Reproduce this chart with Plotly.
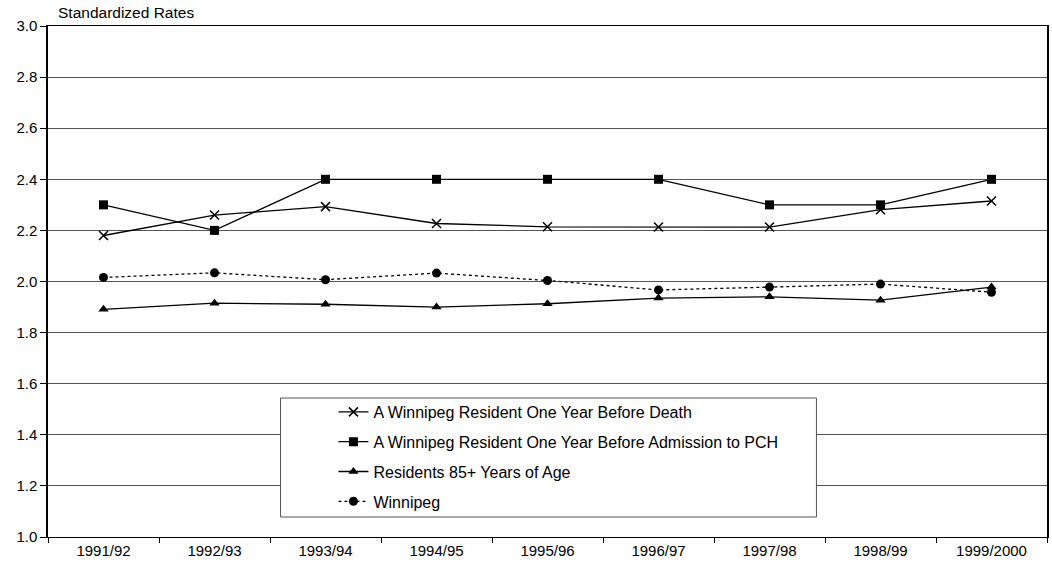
import plotly.graph_objects as go

years = ["1991/92", "1992/93", "1993/94", "1994/95", "1995/96",
         "1996/97", "1997/98", "1998/99", "1999/2000"]
death = [2.18, 2.26, 2.293, 2.227, 2.214, 2.213, 2.213, 2.281, 2.315]
pch = [2.3, 2.2, 2.4, 2.4, 2.4, 2.4, 2.3, 2.3, 2.4]
age85 = [1.891, 1.915, 1.911, 1.90, 1.913, 1.935, 1.94, 1.927, 1.978]
winnipeg = [2.016, 2.034, 2.007, 2.033, 2.004, 1.967, 1.978, 1.99, 1.958]

names = ["A Winnipeg Resident One Year Before Death",
         "A Winnipeg Resident One Year Before Admission to PCH",
         "Residents 85+ Years of Age",
         "Winnipeg"]

FONT = "Arial, Liberation Sans, sans-serif"

fig = go.Figure()
fig.add_trace(go.Scatter(x=years, y=death, name=names[0], mode="lines+markers",
                         legendgroup="a",
                         line=dict(color="black", width=1.3),
                         marker=dict(symbol="x-thin", size=9, color="black",
                                     line=dict(color="black", width=1.5))))
fig.add_trace(go.Scatter(x=years, y=pch, name=names[1], mode="lines+markers",
                         legendgroup="b",
                         line=dict(color="black", width=1.3),
                         marker=dict(symbol="square", size=9, color="black")))
fig.add_trace(go.Scatter(x=years, y=age85, name=names[2], mode="lines+markers",
                         legendgroup="c",
                         line=dict(color="black", width=1.3),
                         marker=dict(symbol="triangle-up", size=9, color="black")))
fig.add_trace(go.Scatter(x=years, y=winnipeg, name=names[3], mode="lines+markers",
                         legendgroup="d",
                         line=dict(color="black", width=1.3, dash="3px,3px"),
                         marker=dict(symbol="circle", size=9, color="black")))

L, R, T, B = 48, 3, 26, 31
W, H = 1052, 568
pw, ph = W - L - R, H - T - B

def px2x(p):
    return (p - L) / pw

def py2y(p):
    return (H - B - p) / ph

fig.add_shape(type="rect", xref="paper", yref="paper",
              x0=px2x(281), x1=px2x(818), y0=py2y(517), y1=py2y(398),
              line=dict(color="#555", width=1), fillcolor="white", layer="above")

fig.add_annotation(text="Standardized Rates", xref="paper", yref="paper",
                   x=px2x(56), y=1, yshift=3, xanchor="left", yanchor="bottom",
                   showarrow=False, font=dict(family=FONT, size=15.5, color="black"))

fig.update_layout(
    width=W, height=H,
    margin=dict(l=L, r=R, t=T, b=B),
    plot_bgcolor="white", paper_bgcolor="white",
    font=dict(family=FONT, size=15, color="black"),
    showlegend=True,
    legend=dict(x=px2x(334), y=py2y(395), xanchor="left", yanchor="top",
                bgcolor="rgba(0,0,0,0)", borderwidth=0,
                tracegroupgap=6, font=dict(family=FONT, size=16, color="black")),
    xaxis=dict(type="category", showgrid=False, showline=True, linecolor="black",
               linewidth=1, mirror=True, ticks="outside", tickson="boundaries",
               ticklen=5, tickcolor="black", tickfont=dict(size=15),
               range=[-0.5, 8.5]),
    yaxis=dict(range=[1.0, 3.0], dtick=0.2, tickformat=".1f", showgrid=True,
               gridcolor="#555", gridwidth=1, showline=True, linecolor="black",
               linewidth=1.5, mirror=True, ticks="outside", ticklen=6,
               tickcolor="black", zeroline=False, tickfont=dict(size=15)),
)

fig.write_html("out.html")
